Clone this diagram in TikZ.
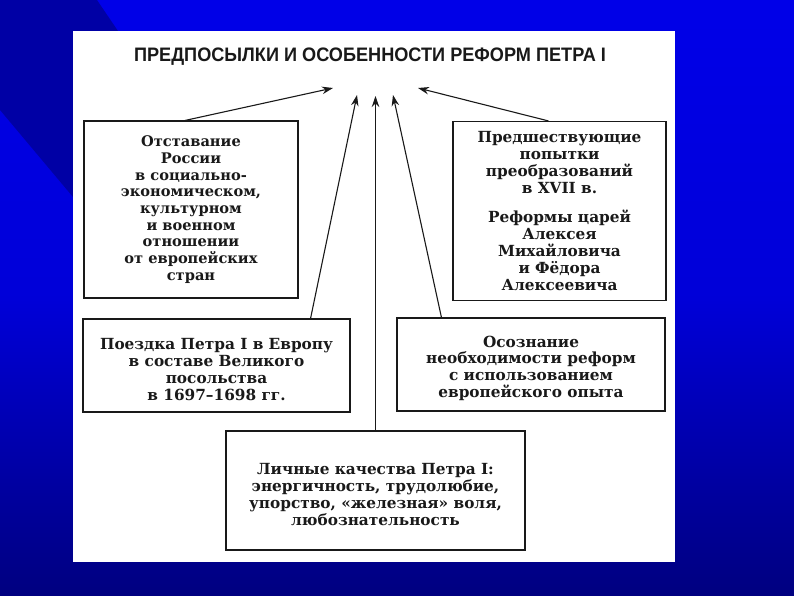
\documentclass[tikz,border=0pt]{standalone}
\usepackage{fontspec}
\setmainfont{DejaVu Serif}
\newfontfamily\titlefont{Liberation Sans}
\usetikzlibrary{arrows.meta,calc}
\definecolor{slidetop}{RGB}{0,0,232}
\definecolor{slidebot}{RGB}{0,0,128}
\definecolor{slidedark}{RGB}{0,0,165}
\definecolor{inkc}{RGB}{25,25,25}
\newcommand{\lowr}{\rule{0pt}{19pt}}
\begin{document}
\begin{tikzpicture}[x=1pt,y=-1pt,
  box/.style={draw=inkc, line width=1.1pt, fill=white, inner sep=0pt, align=center,
    text=inkc, font=\bfseries\fontsize{15.3}{16.9}\selectfont},
  smallbox/.style={box, font=\bfseries\fontsize{14.6}{16.7}\selectfont},
  arr/.style={-{Stealth[length=11pt,width=7.5pt]}, line width=1.1pt, draw=inkc}]
\useasboundingbox (0,0) rectangle (794,595);
% background slide
\shade[top color=slidetop, bottom color=slidebot, middle color=slidetop!85!slidebot] (0,0) rectangle (794,595);
\fill[slidedark] (0,0) -- (97,0) -- (118,31) -- (73,31) -- (73,197) -- (0,110) -- cycle;
% white sheet
\fill[white] (73,31) rectangle (675,562);
% title
\node[font=\titlefont\bfseries\fontsize{19.5}{21}\selectfont, text=inkc] (title) at (370,57)
  {\scalebox{0.93}[1]{ПРЕДПОСЫЛКИ И ОСОБЕННОСТИ РЕФОРМ ПЕТРА I}};
% boxes
\node[smallbox, minimum width=214pt, minimum height=177pt] (b1) at (191,209.5)
  {Отставание\\России\\в социально-\\экономическом,\\культурном\\и военном\\отношении\\от европейских\\стран};
\node[box, minimum width=213pt, minimum height=179pt] (b2) at (559.5,211)
  {Предшествующие\\попытки\\преобразований\\в XVII в.\\[12pt]Реформы царей\\Алексея\\Михайловича\\и Фёдора\\Алексеевича};
\node[box, minimum width=267pt, minimum height=93pt] (b3) at (216.5,365.5)
  {\lowr Поездка Петра I в Европу\\в составе Великого\\посольства\\в 1697–1698 гг.};
\node[box, minimum width=268pt, minimum height=93pt] (b4) at (531,364.5)
  {\lowr Осознание\\необходимости реформ\\с использованием\\европейского опыта};
\node[box, minimum width=299pt, minimum height=119pt] (b5) at (375.5,490.5)
  {\lowr Личные качества Петра I:\\энергичность, трудолюбие,\\упорство, «железная» воля,\\любознательность};
% arrow targets
\coordinate (t1) at (333,88);
\coordinate (t2) at (357,95);
\coordinate (t3) at (375.5,96);
\coordinate (t4) at (393,95);
\coordinate (t5) at (418,88);
% arrows
\draw[arr] ($(b1.north)+(-6,0)$) -- (t1);
\draw[arr] ($(b3.north east)+(-40,0)$) -- (t2);
\draw[arr] (b5.north) -- (t3);
\draw[arr] ($(b4.north west)+(45,0)$) -- (t4);
\draw[arr] ($(b2.north)+(-11,0)$) -- (t5);
\end{tikzpicture}
\end{document}
